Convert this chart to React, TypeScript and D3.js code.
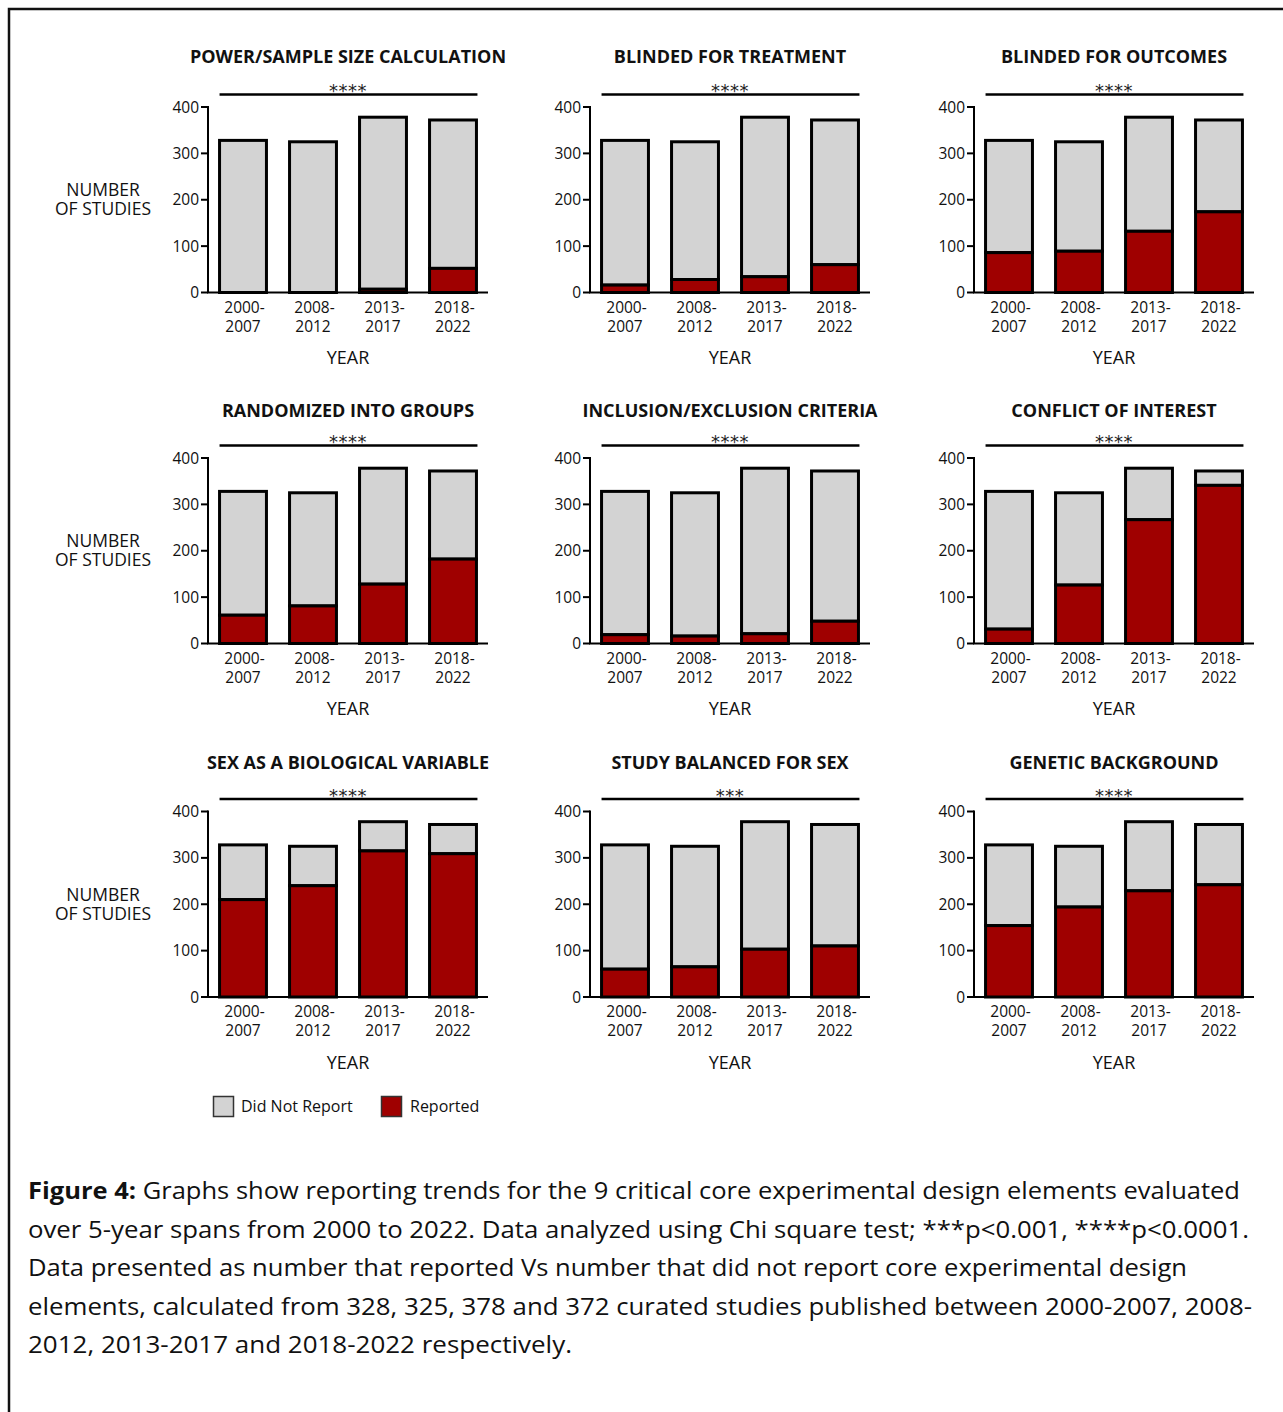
import React from "react";
import * as d3 from "d3";

const periods = ["2000-2007", "2008-2012", "2013-2017", "2018-2022"];
const periodTop = ["2000-", "2008-", "2013-", "2018-"];
const periodBottom = ["2007", "2012", "2017", "2022"];
const totals = [328, 325, 378, 372];
const yTicks = [0, 100, 200, 300, 400];

const titles = [
  "POWER/SAMPLE SIZE CALCULATION",
  "BLINDED FOR TREATMENT",
  "BLINDED FOR OUTCOMES",
  "RANDOMIZED INTO GROUPS",
  "INCLUSION/EXCLUSION CRITERIA",
  "CONFLICT OF INTEREST",
  "SEX AS A BIOLOGICAL VARIABLE",
  "STUDY BALANCED FOR SEX",
  "GENETIC BACKGROUND",
];
const significance = ["****", "****", "****", "****", "****", "****", "****", "***", "****"];

const powerSample = [0, 0, 7, 52];
const blindedTreatment = [16, 28, 34, 60];
const blindedOutcomes = [86, 89, 132, 174];
const randomized = [61, 81, 128, 182];
const inclusionExclusion = [19, 16, 21, 48];
const conflictInterest = [31, 126, 267, 341];
const sexBiological = [210, 240, 315, 309];
const balancedSex = [60, 65, 103, 110];
const geneticBackground = [154, 194, 229, 242];

const reportedSeries = [
  powerSample, blindedTreatment, blindedOutcomes,
  randomized, inclusionExclusion, conflictInterest,
  sexBiological, balancedSex, geneticBackground,
];

const legendLabels = ["Did Not Report", "Reported"];

const captionLines = [
  "Graphs show reporting trends for the 9 critical core experimental design elements evaluated",
  "over 5-year spans from 2000 to 2022. Data analyzed using Chi square test; ***p<0.001, ****p<0.0001.",
  "Data presented as number that reported Vs number that did not report core experimental design",
  "elements, calculated from 328, 325, 378 and 372 curated studies published between 2000-2007, 2008-",
  "2012, 2013-2017 and 2018-2022 respectively.",
];

const GRAY = "#d3d3d3";
const RED = "#9f0000";
const FONT = "'Open Sans', 'Noto Sans', sans-serif";

const colAxisX = [208, 590, 974];
const rowY0 = [292.5, 643.5, 997];
const titleOffset = [229.5, 227, 228.5];
const PLOT_W = 280;
const PLOT_H = 185.5;

function Panel({ idx }: { idx: number }) {
  const col = idx % 3;
  const row = Math.floor(idx / 3);
  const ax = colAxisX[col];
  const y0 = rowY0[row];
  const x = d3.scaleBand<string>().domain(periods).range([ax, ax + PLOT_W]).paddingInner(0.33).paddingOuter(0.165);
  const y = d3.scaleLinear().domain([0, 400]).range([y0, y0 - PLOT_H]);
  const rep = reportedSeries[idx];
  const bw = x.bandwidth();
  const first = x(periods[0])!;
  const last = x(periods[periods.length - 1])! + bw;
  const cx = (first + last) / 2;
  return (
    <g>
      <text x={cx} y={y0 - titleOffset[row]} textAnchor="middle" fontFamily={FONT} fontWeight={700} fontSize={18} fill="#111">
        {titles[idx]}
      </text>
      <line x1={first} x2={last + 1} y1={y(400) - 12.5} y2={y(400) - 12.5} stroke="#000" strokeWidth={2.5} />
      <text x={cx} y={y(400) - 10} textAnchor="middle" fontFamily="'DejaVu Sans', sans-serif" fontSize={18} letterSpacing={0.5} fill="#222">
        {significance[idx]}
      </text>
      {periods.map((p, i) => (
        <g key={p}>
          <rect x={x(p)} y={y(totals[i])} width={bw} height={y(rep[i]) - y(totals[i])} fill={GRAY} stroke="#000" strokeWidth={3} />
          {rep[i] > 0 && (
            <rect x={x(p)} y={y(rep[i])} width={bw} height={y(0) - y(rep[i])} fill={RED} stroke="#000" strokeWidth={3} />
          )}
          <text x={x(p)! + bw / 2 + 1.5} y={y0 + 20} textAnchor="middle" fontFamily={FONT} fontSize={15.5} fill="#111">
            {periodTop[i]}
          </text>
          <text x={x(p)! + bw / 2} y={y0 + 39} textAnchor="middle" fontFamily={FONT} fontSize={15.5} fill="#111">
            {periodBottom[i]}
          </text>
        </g>
      ))}
      <line x1={ax} x2={ax} y1={y(0)} y2={y(400) - 1} stroke="#000" strokeWidth={2} />
      <line x1={ax - 1} x2={ax + PLOT_W} y1={y(0)} y2={y(0)} stroke="#000" strokeWidth={2} />
      {yTicks.map((t) => (
        <g key={t}>
          <line x1={ax - 7} x2={ax} y1={y(t)} y2={y(t)} stroke="#000" strokeWidth={2} />
          <text x={ax - 9} y={y(t) + 5.5} textAnchor="end" fontFamily={FONT} fontSize={15.5} fill="#111">
            {t}
          </text>
        </g>
      ))}
      <text x={cx} y={y0 + 71.5} textAnchor="middle" fontFamily={FONT} fontSize={18} fill="#111">
        YEAR
      </text>
      {col === 0 && (
        <g>
          <text x={103} y={y(200) - 3.5} textAnchor="middle" fontFamily={FONT} fontSize={17.5} fill="#111">NUMBER</text>
          <text x={103} y={y(200) + 15.5} textAnchor="middle" fontFamily={FONT} fontSize={17.5} fill="#111">OF STUDIES</text>
        </g>
      )}
    </g>
  );
}

export default function App() {
  const captionY = [1199, 1237.5, 1276, 1314.5, 1353];
  const captionEnd = [1240, 1249, 1187, 1252, 572];
  return (
    <svg width={1283} height={1412} style={{ position: "absolute", left: 0, top: 0, background: "#fff" }}>
      <rect x={0} y={0} width={1283} height={1412} fill="#fff" />
      <path d="M9,1412 V9 H1283" fill="none" stroke="#111" strokeWidth={2.5} />
      {titles.map((_, i) => (
        <Panel key={i} idx={i} />
      ))}
      <g>
        <rect x={213.5} y={1096.5} width={20} height={20} fill={GRAY} stroke="#333" strokeWidth={1.5} />
        <text x={241} y={1112} fontFamily={FONT} fontSize={16} fill="#111">{legendLabels[0]}</text>
        <rect x={381.5} y={1096.5} width={20} height={20} fill={RED} stroke="#333" strokeWidth={1.5} />
        <text x={410} y={1112} fontFamily={FONT} fontSize={16} fill="#111">{legendLabels[1]}</text>
      </g>
      {captionLines.map((ln, i) => (
        <text
          key={i}
          x={28}
          y={captionY[i]}
          fontFamily={FONT}
          fontSize={24}
          fill="#111"
          textLength={captionEnd[i] - 28}
          lengthAdjust="spacingAndGlyphs"
        >
          {i === 0 && <tspan fontWeight={700}>Figure 4: </tspan>}
          {ln}
        </text>
      ))}
    </svg>
  );
}
